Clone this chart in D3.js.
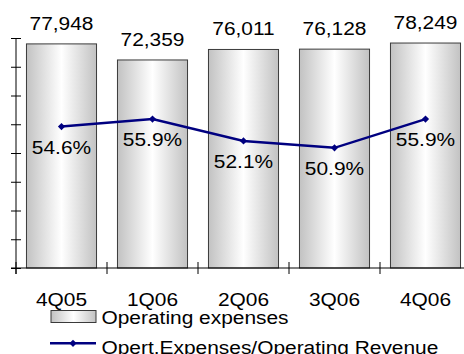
<!DOCTYPE html>
<html>
<head>
<meta charset="utf-8">
<script src="https://cdn.jsdelivr.net/npm/d3@7"></script>
<style>
  html, body { margin: 0; padding: 0; background: #fff; }
  svg { display: block; }
  text { font-family: "Liberation Sans", Arial, sans-serif; font-size: 19px; fill: #000; }
</style>
</head>
<body>
<svg id="chart" width="464" height="354"></svg>
<script>
// Quarterly operating expenses and expense/revenue ratio
const quarters = ["4Q05", "1Q06", "2Q06", "3Q06", "4Q06"];
const operatingExpenses = [77948, 72359, 76011, 76128, 78249];
const expenseRatio = [54.6, 55.9, 52.1, 50.9, 55.9];
const expenseTicks = [0, 10000, 20000, 30000, 40000, 50000, 60000, 70000, 80000];
const legendLabels = ["Operating expenses", "Opert.Expenses/Operating Revenue"];

const svg = d3.select("#chart");
const stretch = 1.1; // horizontal text stretch

const x = d3.scaleBand().domain(quarters).range([16, 471])
  .paddingInner(0.23).paddingOuter(0.115);
const y = d3.scaleLinear().domain([0, 80000]).range([268, 38]);
const yPct = d3.scaleLinear().domain([30, 70]).range([268, 38]);

const fmt = d3.format(",");

// Bar fill: horizontal grey-white-grey gradient
const defs = svg.append("defs");
const grad = defs.append("linearGradient").attr("id", "barGrad")
  .attr("x1", "0%").attr("x2", "100%").attr("y1", "0%").attr("y2", "0%");
grad.append("stop").attr("offset", "0%").attr("stop-color", "#c2c2c2");
grad.append("stop").attr("offset", "50%").attr("stop-color", "#ffffff");
grad.append("stop").attr("offset", "100%").attr("stop-color", "#c2c2c2");

function label(parent, txt, px, py, anchor) {
  parent.append("g")
    .attr("transform", `translate(${px},${py}) scale(${stretch},1)`)
    .append("text")
    .attr("text-anchor", anchor || "middle")
    .text(txt);
}

// Bars
svg.append("g").selectAll("rect")
  .data(quarters)
  .join("rect")
  .attr("x", d => x(d))
  .attr("y", (d, i) => y(operatingExpenses[i]))
  .attr("width", x.bandwidth())
  .attr("height", (d, i) => y(0) - y(operatingExpenses[i]))
  .attr("fill", "url(#barGrad)")
  .attr("stroke", "#3a3a3a")
  .attr("stroke-width", 1);

// Y axis (no labels, ticks crossing the line)
const yAxis = svg.append("g").attr("transform", "translate(16,0)")
  .call(d3.axisLeft(y).tickValues(expenseTicks).tickSize(5).tickFormat(""))
  .call(g => g.select(".domain").remove());
yAxis.selectAll(".tick line").attr("x2", 5).attr("x1", -5).attr("stroke", "#000");
svg.append("line").attr("x1", 16).attr("x2", 16).attr("y1", y(80000)).attr("y2", y(0) + 6)
  .attr("stroke", "#000");

// X axis line with category boundary ticks
svg.append("line").attr("x1", 11).attr("x2", 471).attr("y1", y(0)).attr("y2", y(0))
  .attr("stroke", "#000");
const bounds = d3.range(quarters.length + 1).map(i => x.range()[0] + i * x.step());
svg.append("g").selectAll("line")
  .data(bounds)
  .join("line")
  .attr("x1", d => d).attr("x2", d => d)
  .attr("y1", y(0) - 6).attr("y2", y(0) + 6)
  .attr("stroke", "#000");

// Category labels
const catG = svg.append("g");
quarters.forEach(q => label(catG, q, x(q) + x.bandwidth() / 2, 305.5));

// Value labels above bars
const valG = svg.append("g");
quarters.forEach((q, i) =>
  label(valG, fmt(operatingExpenses[i]), x(q) + x.bandwidth() / 2, y(operatingExpenses[i]) - 14));

// Ratio line
const lineGen = d3.line()
  .x((d, i) => x(quarters[i]) + x.bandwidth() / 2)
  .y(d => yPct(d));
svg.append("path").datum(expenseRatio)
  .attr("d", lineGen)
  .attr("fill", "none")
  .attr("stroke", "#000080")
  .attr("stroke-width", 2.5);

const diamond = d3.symbol().type(d3.symbolSquare).size(26);
svg.append("g").selectAll("path")
  .data(expenseRatio)
  .join("path")
  .attr("d", diamond)
  .attr("transform", (d, i) => `translate(${x(quarters[i]) + x.bandwidth() / 2},${yPct(d)}) rotate(45)`)
  .attr("fill", "#000080");

// Ratio labels below points
const pctG = svg.append("g");
quarters.forEach((q, i) =>
  label(pctG, expenseRatio[i].toFixed(1) + "%", x(q) + x.bandwidth() / 2, yPct(expenseRatio[i]) + 27));

// Legend
const leg = svg.append("g");
leg.append("rect").attr("x", 51).attr("y", 310.5).attr("width", 45).attr("height", 12)
  .attr("fill", "url(#barGrad)").attr("stroke", "#3a3a3a");
label(leg, legendLabels[0], 101.5, 323.5, "start");
leg.append("line").attr("x1", 50).attr("x2", 96).attr("y1", 343.3).attr("y2", 343.3)
  .attr("stroke", "#000080").attr("stroke-width", 2.5);
leg.append("path").attr("d", diamond).attr("transform", "translate(73,343.3) rotate(45)")
  .attr("fill", "#000080");
label(leg, legendLabels[1], 101.5, 353.5, "start");
</script>
</body>
</html>
